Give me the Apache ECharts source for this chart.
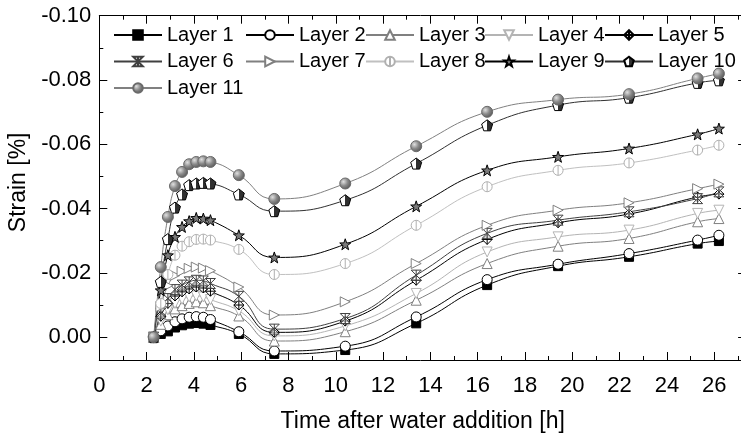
<!DOCTYPE html>
<html>
<head>
<meta charset="utf-8">
<script src="https://cdn.jsdelivr.net/npm/echarts@6/dist/echarts.min.js"></script>
<style>
html,body{margin:0;padding:0;background:#fff;}
#chart{width:741px;height:438px;}
</style>
</head>
<body>
<div id="chart"></div>
<script>
// ---- data ----
const timeH = [2.3, 2.6, 2.9, 3.2, 3.5, 3.8, 4.1, 4.4, 4.7, 5.9, 7.4, 10.4, 13.4, 16.4, 19.4, 22.4, 25.3, 26.2];
const layer1  = [0, -0.0010, -0.0018, -0.0030, -0.0037, -0.0042, -0.0044, -0.0042, -0.0038, -0.0010, 0.0052, 0.0040, -0.0043, -0.0162, -0.0221, -0.0250, -0.0291, -0.0299];
const layer2  = [0, -0.0020, -0.0035, -0.0048, -0.0057, -0.0062, -0.0064, -0.0062, -0.0055, -0.0017, 0.0043, 0.0028, -0.0063, -0.0179, -0.0227, -0.0260, -0.0302, -0.0317];
const layer3  = [0, -0.0040, -0.0070, -0.0088, -0.0098, -0.0105, -0.0110, -0.0107, -0.0098, -0.0066, 0.0012, -0.0017, -0.0115, -0.0229, -0.0283, -0.0307, -0.0359, -0.0369];
const layer4  = [0, -0.0050, -0.0085, -0.0105, -0.0118, -0.0125, -0.0128, -0.0125, -0.0117, -0.0082, -0.0004, -0.0035, -0.0136, -0.0265, -0.0312, -0.0333, -0.0385, -0.0395];
const layer5  = [0, -0.0065, -0.0105, -0.0128, -0.0141, -0.0150, -0.0156, -0.0153, -0.0143, -0.0100, -0.0015, -0.0050, -0.0177, -0.0304, -0.0356, -0.0383, -0.0436, -0.0445];
const layer6  = [0, -0.0075, -0.0120, -0.0148, -0.0162, -0.0172, -0.0177, -0.0175, -0.0167, -0.0127, -0.0025, -0.0058, -0.0193, -0.0323, -0.0364, -0.0390, -0.0431, -0.0452];
const layer7  = [0, -0.0095, -0.0160, -0.0192, -0.0205, -0.0214, -0.0218, -0.0215, -0.0207, -0.0156, -0.0069, -0.0110, -0.0229, -0.0348, -0.0395, -0.0418, -0.0462, -0.0476];
const layer8  = [0, -0.0105, -0.0195, -0.0255, -0.0283, -0.0297, -0.0304, -0.0305, -0.0302, -0.0273, -0.0195, -0.0229, -0.0348, -0.0468, -0.0519, -0.0542, -0.0582, -0.0597];
const layer9  = [0, -0.0146, -0.0255, -0.0312, -0.0343, -0.0361, -0.0371, -0.0369, -0.0364, -0.0317, -0.0248, -0.0289, -0.0407, -0.0519, -0.0561, -0.0587, -0.0631, -0.0649];
const layer10 = [0, -0.0172, -0.0305, -0.0403, -0.0444, -0.0473, -0.0478, -0.0480, -0.0478, -0.0444, -0.0392, -0.0426, -0.0540, -0.0659, -0.0722, -0.0745, -0.0791, -0.0799];
const layer11 = [0, -0.0218, -0.0374, -0.0470, -0.0514, -0.0538, -0.0545, -0.0547, -0.0545, -0.0504, -0.0430, -0.0478, -0.0594, -0.0701, -0.0739, -0.0756, -0.0805, -0.0820];
const layerNames = ['Layer 1','Layer 2','Layer 3','Layer 4','Layer 5','Layer 6','Layer 7','Layer 8','Layer 9','Layer 10','Layer 11'];
const layerValues = [layer1, layer2, layer3, layer4, layer5, layer6, layer7, layer8, layer9, layer10, layer11];
const xTickValues = [0, 2, 4, 6, 8, 10, 12, 14, 16, 18, 20, 22, 24, 26];
const yTickValues = [-0.10, -0.08, -0.06, -0.04, -0.02, 0.00];

// ---- styles ----
const FONT = 'Liberation Sans';
const pentagon = 'path://M5 0 L9.755 3.455 L7.939 9.045 L2.061 9.045 L0.245 3.455 Z';
const star = 'path://M5 0 L6.176 3.382 L9.755 3.455 L6.902 5.618 L7.939 9.045 L5 7 L2.061 9.045 L3.098 5.618 L0.245 3.455 L3.824 3.382 Z';
const diamondCross = 'path://M5 0 L10 5 L5 10 L0 5 Z M5 0 L5 10 M0 5 L10 5';
const hourX = 'path://M0 0 L10 0 L0 10 L10 10 Z M5 0 L5 10';
const circleBar = 'path://M0 5 C0 2.24 2.24 0 5 0 C7.76 0 10 2.24 10 5 C10 7.76 7.76 10 5 10 C2.24 10 0 7.76 0 5 Z M5 0 L5 10';
const triDown = 'path://M0 0 L10 0 L5 8.66 Z';
const triRight = 'path://M0 0 L8.66 5 L0 10 Z';
const triUp = 'path://M5 0 L10 8.66 L0 8.66 Z';

const halfFill = new echarts.graphic.LinearGradient(0, 0, 1, 0, [
  {offset: 0, color: '#ffffff'}, {offset: 0.5, color: '#ffffff'},
  {offset: 0.5, color: '#303030'}, {offset: 1, color: '#303030'}]);
const sphere = new echarts.graphic.RadialGradient(0.35, 0.35, 0.7, [
  {offset: 0, color: '#e0e0e0'}, {offset: 0.5, color: '#8a8a8a'}, {offset: 1, color: '#555555'}]);

const styles = [
  {symbol: 'rect', size: 9, line: '#000000', fill: '#000000', edge: '#000000'},
  {symbol: 'circle', size: 10, line: '#000000', fill: '#ffffff', edge: '#000000'},
  {symbol: triUp, size: 10, line: '#808080', fill: '#ffffff', edge: '#808080'},
  {symbol: triDown, size: 10, line: '#b4b4b4', fill: '#ffffff', edge: '#b4b4b4'},
  {symbol: diamondCross, size: 10, line: '#000000', fill: '#ffffff', edge: '#000000'},
  {symbol: hourX, size: 10, line: '#404040', fill: 'rgba(255,255,255,0.6)', edge: '#404040'},
  {symbol: triRight, size: 10, line: '#808080', fill: '#ffffff', edge: '#808080'},
  {symbol: circleBar, size: 10, line: '#c0c0c0', fill: '#ffffff', edge: '#b0b0b0'},
  {symbol: star, size: 11, line: '#000000', fill: '#7a7a7a', edge: '#000000'},
  {symbol: pentagon, size: 11, line: '#303030', fill: halfFill, edge: '#000000'},
  {symbol: 'circle', size: 11, line: '#808080', fill: sphere, edge: '#6a6a6a'}
];

const series = layerNames.map((name, i) => ({
  name: name,
  type: 'line',
  xAxisIndex: 0,
  yAxisIndex: 0,
  smooth: 0.5,
  symbol: styles[i].symbol,
  symbolSize: styles[i].size,
  showAllSymbol: true,
  lineStyle: {color: styles[i].line, width: 1},
  itemStyle: {color: styles[i].fill, borderColor: styles[i].edge, borderWidth: 1},
  emphasis: {disabled: true},
  data: timeH.map((t, k) => [t, layerValues[i][k]])
}));

const XMAX = 27.35, YMIN = -0.10, YMAX = 0.0071;
const isOn = (v, list) => list.some(t => Math.abs(v - t) < 1e-7);

function xAxisDef(pos, interval, major) {
  return {
    type: 'value', position: pos, min: 0, max: XMAX, interval: interval,
    axisLine: {show: major, onZero: false, lineStyle: {color: '#000', width: 1}},
    axisTick: {show: true, inside: true, length: major ? 8 : 4, lineStyle: {color: '#000', width: 1}},
    axisLabel: {show: major && pos === 'bottom', margin: 15, color: '#000', fontFamily: FONT, fontSize: 22,
      formatter: v => isOn(v, xTickValues) ? String(Math.round(v)) : ''},
    splitLine: {show: false},
    name: (major && pos === 'bottom') ? 'Time after water addition [h]' : '',
    nameLocation: 'middle', nameGap: 50,
    nameTextStyle: {color: '#000', fontFamily: FONT, fontSize: 23}
  };
}
function yAxisDef(pos, interval, major) {
  return {
    type: 'value', position: pos, inverse: true, min: YMIN, max: YMAX, interval: interval,
    axisLine: {show: major, onZero: false, lineStyle: {color: '#000', width: 1}},
    axisTick: {show: true, inside: true, length: major ? 8 : 4, lineStyle: {color: '#000', width: 1}},
    axisLabel: {show: major && pos === 'left', margin: 8, color: '#000', fontFamily: FONT, fontSize: 22,
      formatter: v => isOn(v, yTickValues) ? v.toFixed(2) : ''},
    splitLine: {show: false},
    name: (major && pos === 'left') ? 'Strain [%]' : '',
    nameLocation: 'middle', nameGap: 65, nameRotate: 90,
    nameTextStyle: {color: '#000', fontFamily: FONT, fontSize: 23, padding: [0, 0, 0, 11]}
  };
}

const legendCols = [
  {left: 113, data: ['Layer 1', 'Layer 6', 'Layer 11']},
  {left: 245, data: ['Layer 2', 'Layer 7']},
  {left: 365, data: ['Layer 3', 'Layer 8']},
  {left: 484, data: ['Layer 4', 'Layer 9']},
  {left: 604, data: ['Layer 5', 'Layer 10']}
];

const chart = echarts.init(document.getElementById('chart'), null, {renderer: 'canvas'});
chart.setOption({
  animation: false,
  backgroundColor: '#ffffff',
  grid: {left: 99.3, right: -5.1, top: 15.7, bottom: 78, containLabel: false, outerBoundsMode: 'none'},
  legend: legendCols.map(c => ({
    orient: 'vertical', left: c.left, top: 25, padding: 0,
    itemWidth: 48, itemHeight: 12, itemGap: 6.5,
    selectedMode: false,
    textStyle: {color: '#000', fontFamily: FONT, fontSize: 20, lineHeight: 20},
    data: c.data
  })),
  xAxis: [xAxisDef('bottom', 2, true), xAxisDef('bottom', 1, false), xAxisDef('top', 2, true), xAxisDef('top', 1, false)],
  yAxis: [yAxisDef('left', 0.02, true), yAxisDef('left', 0.01, false), yAxisDef('right', 0.02, true), yAxisDef('right', 0.01, false)],
  series: series
});
</script>
</body>
</html>
